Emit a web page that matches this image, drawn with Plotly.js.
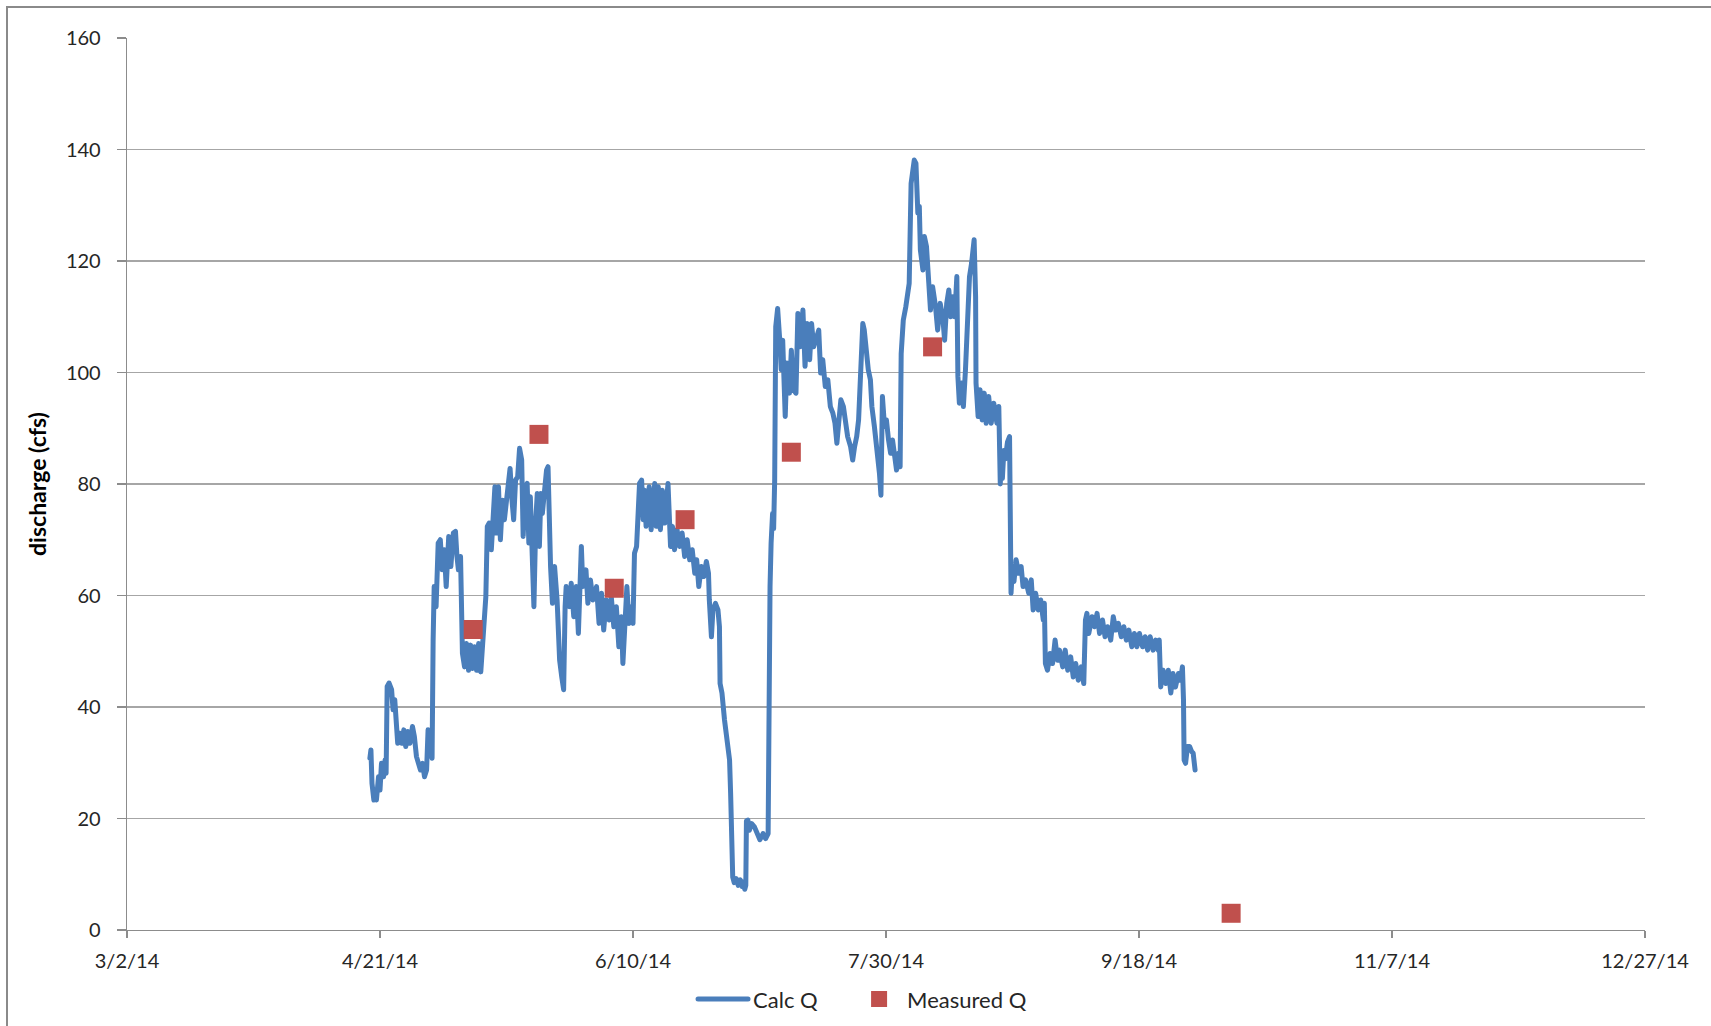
<!DOCTYPE html>
<html>
<head>
<meta charset="utf-8">
<script src="https://cdn.plot.ly/plotly-3.0.1.min.js"></script>
<style>
  html, body { margin: 0; padding: 0; background: #ffffff; overflow: hidden; }
  #wrap { position: relative; width: 1711px; height: 1026px; }
  #chart { position: absolute; left: 0; top: 0; width: 1711px; height: 1026px; }
  #frame { position: absolute; left: 6px; top: 6px; right: -10px; bottom: -10px;
           border-left: 2px solid #8a8a8a; border-top: 2px solid #8a8a8a; pointer-events: none; }
  .js-line { stroke-linejoin: round; stroke-linecap: round; }
</style>
</head>
<body>
<div id="wrap">
  <div id="chart"></div>
  <div id="frame"></div>
</div>
<script>
// Calculated discharge (continuous record), cfs
const calcTimes = [
  "2014-04-19 00:00","2014-04-19 05:00","2014-04-19 10:00","2014-04-19 14:00","2014-04-19 19:00",
  "2014-04-20 02:00","2014-04-20 07:00","2014-04-20 17:00","2014-04-21 00:00","2014-04-21 07:00",
  "2014-04-21 17:00","2014-04-22 00:00","2014-04-22 05:00","2014-04-22 10:00","2014-04-22 19:00",
  "2014-04-23 07:00","2014-04-23 14:00","2014-04-23 22:00","2014-04-24 07:00","2014-04-24 12:00",
  "2014-04-24 22:00","2014-04-25 07:00","2014-04-25 17:00","2014-04-26 02:00","2014-04-26 12:00",
  "2014-04-26 22:00","2014-04-27 10:00","2014-04-27 19:00","2014-04-28 05:00","2014-04-28 14:00",
  "2014-04-29 00:00","2014-04-29 10:00","2014-04-29 19:00","2014-04-30 05:00","2014-04-30 12:00",
  "2014-04-30 22:00","2014-05-01 07:00","2014-05-01 12:00","2014-05-01 17:00","2014-05-02 02:00",
  "2014-05-02 12:00","2014-05-02 22:00","2014-05-03 07:00","2014-05-03 17:00","2014-05-04 02:00",
  "2014-05-04 14:00","2014-05-05 00:00","2014-05-05 12:00","2014-05-05 22:00","2014-05-06 05:00",
  "2014-05-06 12:00","2014-05-06 22:00","2014-05-07 02:00","2014-05-07 07:00","2014-05-07 17:00",
  "2014-05-08 02:00","2014-05-08 12:00","2014-05-08 22:00","2014-05-09 07:00","2014-05-09 17:00",
  "2014-05-10 02:00","2014-05-10 12:00","2014-05-10 22:00","2014-05-11 07:00","2014-05-11 12:00",
  "2014-05-11 22:00","2014-05-12 05:00","2014-05-12 14:00","2014-05-13 00:00","2014-05-13 10:00",
  "2014-05-13 17:00","2014-05-14 00:00","2014-05-14 10:00","2014-05-14 19:00","2014-05-15 05:00",
  "2014-05-15 14:00","2014-05-16 00:00","2014-05-16 10:00","2014-05-16 17:00","2014-05-17 02:00",
  "2014-05-17 10:00","2014-05-17 19:00","2014-05-18 05:00","2014-05-18 14:00","2014-05-19 00:00",
  "2014-05-19 07:00","2014-05-19 17:00","2014-05-20 02:00","2014-05-20 10:00","2014-05-20 17:00",
  "2014-05-21 02:00","2014-05-21 10:00","2014-05-21 19:00","2014-05-22 02:00","2014-05-22 12:00",
  "2014-05-22 19:00","2014-05-23 02:00","2014-05-23 12:00","2014-05-23 22:00","2014-05-24 05:00",
  "2014-05-24 10:00","2014-05-24 17:00","2014-05-25 02:00","2014-05-25 12:00","2014-05-26 00:00",
  "2014-05-26 12:00","2014-05-26 22:00","2014-05-27 07:00","2014-05-27 14:00","2014-05-27 19:00",
  "2014-05-28 10:00","2014-05-28 19:00","2014-05-29 07:00","2014-05-29 19:00","2014-05-30 05:00",
  "2014-05-30 12:00","2014-05-30 19:00","2014-05-31 02:00","2014-05-31 17:00","2014-06-01 02:00",
  "2014-06-01 14:00","2014-06-02 02:00","2014-06-02 19:00","2014-06-03 07:00","2014-06-03 19:00",
  "2014-06-04 05:00","2014-06-04 17:00","2014-06-05 07:00","2014-06-05 17:00","2014-06-06 05:00",
  "2014-06-06 17:00","2014-06-07 05:00","2014-06-07 17:00","2014-06-08 00:00","2014-06-08 10:00",
  "2014-06-08 19:00","2014-06-09 05:00","2014-06-09 17:00","2014-06-10 00:00","2014-06-10 07:00",
  "2014-06-10 17:00","2014-06-11 00:00","2014-06-11 07:00","2014-06-11 17:00","2014-06-12 00:00",
  "2014-06-12 07:00","2014-06-12 14:00","2014-06-13 05:00","2014-06-13 14:00","2014-06-14 07:00",
  "2014-06-14 14:00","2014-06-15 00:00","2014-06-15 10:00","2014-06-15 19:00","2014-06-16 07:00",
  "2014-06-16 22:00","2014-06-17 10:00","2014-06-17 19:00","2014-06-18 05:00","2014-06-18 17:00",
  "2014-06-19 05:00","2014-06-19 17:00","2014-06-20 05:00","2014-06-20 17:00","2014-06-21 05:00",
  "2014-06-21 17:00","2014-06-22 05:00","2014-06-22 14:00","2014-06-23 00:00","2014-06-23 12:00",
  "2014-06-24 00:00","2014-06-24 12:00","2014-06-24 22:00","2014-06-25 02:00","2014-06-25 12:00",
  "2014-06-25 19:00","2014-06-26 07:00","2014-06-26 19:00","2014-06-27 02:00","2014-06-27 05:00",
  "2014-06-27 14:00","2014-06-28 02:00","2014-06-28 10:00","2014-06-28 19:00","2014-06-29 02:00",
  "2014-06-29 07:00","2014-06-29 12:00","2014-06-29 17:00","2014-06-30 00:00","2014-06-30 10:00",
  "2014-06-30 19:00","2014-07-01 05:00","2014-07-01 14:00","2014-07-01 19:00","2014-07-02 02:00",
  "2014-07-02 07:00","2014-07-02 10:00","2014-07-02 17:00","2014-07-03 00:00","2014-07-03 10:00",
  "2014-07-04 00:00","2014-07-04 17:00","2014-07-05 02:00","2014-07-05 17:00","2014-07-06 05:00",
  "2014-07-06 17:00","2014-07-06 19:00","2014-07-07 00:00","2014-07-07 02:00","2014-07-07 07:00",
  "2014-07-07 14:00","2014-07-07 19:00","2014-07-08 00:00","2014-07-08 05:00","2014-07-08 14:00",
  "2014-07-09 00:00","2014-07-09 07:00","2014-07-09 14:00","2014-07-10 02:00","2014-07-10 10:00",
  "2014-07-10 22:00","2014-07-11 07:00","2014-07-11 17:00","2014-07-12 05:00","2014-07-12 14:00",
  "2014-07-13 00:00","2014-07-13 14:00","2014-07-14 00:00","2014-07-14 10:00","2014-07-14 22:00",
  "2014-07-15 07:00","2014-07-15 17:00","2014-07-16 05:00","2014-07-16 17:00","2014-07-17 02:00",
  "2014-07-17 12:00","2014-07-18 00:00","2014-07-18 12:00","2014-07-19 00:00","2014-07-19 12:00",
  "2014-07-19 22:00","2014-07-20 07:00","2014-07-20 17:00","2014-07-21 02:00","2014-07-21 14:00",
  "2014-07-22 00:00","2014-07-22 10:00","2014-07-23 00:00","2014-07-23 10:00","2014-07-23 19:00",
  "2014-07-24 05:00","2014-07-24 14:00","2014-07-25 00:00","2014-07-25 10:00","2014-07-25 17:00",
  "2014-07-26 02:00","2014-07-26 12:00","2014-07-26 22:00","2014-07-27 05:00","2014-07-27 17:00",
  "2014-07-28 00:00","2014-07-28 10:00","2014-07-28 17:00","2014-07-29 00:00","2014-07-29 07:00",
  "2014-07-29 17:00","2014-07-30 02:00","2014-07-30 12:00","2014-07-30 22:00","2014-07-31 07:00",
  "2014-07-31 17:00","2014-08-01 02:00","2014-08-01 12:00","2014-08-01 19:00","2014-08-02 00:00",
  "2014-08-02 10:00","2014-08-02 22:00","2014-08-03 10:00","2014-08-03 14:00","2014-08-03 23:00",
  "2014-08-04 07:00","2014-08-04 14:00","2014-08-04 22:00","2014-08-05 07:00","2014-08-05 14:00",
  "2014-08-05 19:00","2014-08-06 07:00","2014-08-06 14:00","2014-08-07 00:00","2014-08-07 10:00",
  "2014-08-07 19:00","2014-08-08 05:00","2014-08-08 19:00","2014-08-09 05:00","2014-08-09 17:00",
  "2014-08-10 05:00","2014-08-10 14:00","2014-08-11 00:00","2014-08-11 10:00","2014-08-11 19:00",
  "2014-08-12 05:00","2014-08-12 14:00","2014-08-13 00:00","2014-08-13 05:00","2014-08-13 12:00",
  "2014-08-13 22:00","2014-08-14 07:00","2014-08-14 17:00","2014-08-15 02:00","2014-08-15 12:00",
  "2014-08-15 22:00","2014-08-16 10:00","2014-08-16 17:00","2014-08-16 19:00","2014-08-17 05:00",
  "2014-08-17 14:00","2014-08-18 00:00","2014-08-18 10:00","2014-08-18 19:00","2014-08-19 07:00",
  "2014-08-19 19:00","2014-08-20 07:00","2014-08-20 22:00","2014-08-21 07:00","2014-08-21 14:00",
  "2014-08-21 19:00","2014-08-22 00:00","2014-08-22 07:00","2014-08-22 14:00","2014-08-23 00:00",
  "2014-08-23 10:00","2014-08-23 14:00","2014-08-23 17:00","2014-08-24 00:00","2014-08-24 07:00",
  "2014-08-24 17:00","2014-08-25 05:00","2014-08-25 17:00","2014-08-26 02:00","2014-08-26 14:00",
  "2014-08-27 05:00","2014-08-27 17:00","2014-08-28 02:00","2014-08-28 14:00","2014-08-29 02:00",
  "2014-08-29 14:00","2014-08-30 02:00","2014-08-30 07:00","2014-08-30 12:00","2014-08-30 22:00",
  "2014-08-31 10:00","2014-08-31 22:00","2014-09-01 10:00","2014-09-01 22:00","2014-09-02 07:00",
  "2014-09-02 22:00","2014-09-03 10:00","2014-09-03 22:00","2014-09-04 12:00","2014-09-05 00:00",
  "2014-09-05 12:00","2014-09-06 00:00","2014-09-06 14:00","2014-09-07 02:00","2014-09-07 10:00",
  "2014-09-07 17:00","2014-09-08 02:00","2014-09-08 17:00","2014-09-09 05:00","2014-09-09 17:00",
  "2014-09-10 05:00","2014-09-10 19:00","2014-09-11 07:00","2014-09-11 19:00","2014-09-12 10:00",
  "2014-09-12 22:00","2014-09-13 10:00","2014-09-13 22:00","2014-09-14 12:00","2014-09-15 00:00",
  "2014-09-15 12:00","2014-09-16 00:00","2014-09-16 14:00","2014-09-17 02:00","2014-09-17 14:00",
  "2014-09-18 02:00","2014-09-18 17:00","2014-09-19 05:00","2014-09-19 17:00","2014-09-20 05:00",
  "2014-09-20 19:00","2014-09-21 07:00","2014-09-21 19:00","2014-09-22 00:00","2014-09-22 07:00",
  "2014-09-22 18:00","2014-09-23 07:00","2014-09-23 19:00","2014-09-24 07:00","2014-09-24 17:00",
  "2014-09-25 05:00","2014-09-25 19:00","2014-09-26 05:00","2014-09-26 14:00","2014-09-26 19:00",
  "2014-09-26 22:00","2014-09-27 05:00","2014-09-27 14:00","2014-09-28 00:00","2014-09-28 10:00",
  "2014-09-28 17:00","2014-09-29 02:00"
];
const calcQ = [
  30.8, 32.3, 26.3, 23.9, 23.3,
  25.1, 23.3, 27.5, 25.1, 29.9,
  27.5, 30.5, 28.1, 43.7, 44.3,
  43.1, 39.5, 41.3, 37.7, 33.5,
  35.3, 33.5, 35.9, 32.9, 35.6,
  33.5, 36.5, 34.7, 31.1, 29.9,
  28.7, 29.9, 27.5, 28.7, 35.9,
  34.1, 30.8, 52.0, 61.6, 58.0,
  69.4, 70.0, 64.6, 68.2, 61.6,
  70.6, 65.2, 71.2, 71.5, 67.0,
  64.6, 67.0, 61.6, 49.6, 47.2,
  51.4, 46.6, 51.1, 46.9, 50.8,
  46.6, 51.4, 46.3, 50.8, 55.6,
  59.8, 72.4, 73.0, 68.2, 75.9,
  79.5, 71.2, 79.5, 70.0, 77.1,
  73.6, 77.1, 80.7, 82.8, 77.1,
  73.6, 80.7, 81.3, 86.4, 84.3,
  70.6, 79.5, 80.1, 69.4, 77.7,
  65.2, 58.0, 73.6, 78.3, 68.8,
  78.3, 74.7, 79.5, 82.5, 83.1,
  70.0, 65.2, 58.6, 65.2, 59.2,
  48.4, 45.4, 43.1, 58.0, 61.6,
  58.0, 62.2, 56.2, 61.6, 53.2,
  61.0, 68.8, 61.6, 64.6, 58.6,
  62.8, 59.2, 61.6, 55.0, 60.4,
  53.8, 59.2, 55.6, 59.8, 54.4,
  58.0, 50.8, 56.2, 47.8, 56.8,
  61.6, 55.0, 58.0, 55.0, 67.6,
  68.8, 77.1, 80.1, 80.7, 73.6,
  78.9, 72.4, 79.5, 71.8, 80.1,
  72.4, 79.5, 71.8, 78.9, 73.0,
  80.1, 68.8, 72.4, 68.2, 71.8,
  68.8, 71.2, 67.0, 70.0, 66.4,
  68.2, 64.0, 66.4, 61.6, 65.2,
  63.4, 66.1, 64.0, 59.2, 52.6,
  57.4, 58.6, 57.4, 54.4, 44.2,
  42.5, 37.7, 35.3, 32.3, 30.5,
  24.5, 14.0, 9.5, 8.5, 9.2,
  8.0, 9.0, 7.8, 8.6, 7.3,
  8.0, 19.6, 19.7, 17.9, 19.1,
  18.5, 17.3, 16.2, 17.3, 16.4,
  17.3, 46.6, 58.0, 61.6, 69.4,
  74.7, 72.0, 80.7, 108.2, 111.5,
  105.8, 100.5, 105.8, 92.1, 101.7,
  96.3, 104.0, 96.9, 96.3, 110.6,
  104.6, 111.2, 101.1, 108.8, 102.3,
  108.8, 104.6, 106.4, 107.6, 99.9,
  102.3, 97.5, 98.7, 93.9, 92.7,
  90.9, 87.3, 91.5, 95.1, 93.9,
  90.3, 88.5, 86.7, 84.3, 86.7,
  88.5, 91.5, 98.7, 108.8, 107.6,
  104.0, 100.5, 98.7, 93.9, 90.3,
  87.9, 84.9, 81.9, 78.0, 95.7,
  90.3, 91.5, 87.9, 85.5, 87.9,
  84.3, 82.5, 85.5, 83.1, 103.4,
  109.4, 111.8, 114.2, 116.0, 133.9,
  135.7, 138.1, 137.5, 128.6, 129.8,
  122.0, 118.4, 124.4, 122.6, 116.0,
  111.2, 115.4, 111.8, 107.6, 112.4,
  110.0, 105.8, 112.4, 114.8, 110.0,
  113.6, 110.0, 117.2, 99.3, 94.5,
  98.1, 93.9, 100.5, 107.6, 117.2,
  119.6, 123.8, 113.6, 98.1, 92.1,
  96.9, 91.5, 96.3, 90.9, 95.7,
  90.9, 94.5, 90.9, 93.9, 80.0,
  84.0, 81.0, 86.0, 84.5, 87.5,
  88.5, 70.0, 60.4, 65.2, 62.5,
  66.4, 64.0, 65.2, 61.6, 62.8,
  60.4, 62.8, 57.4, 60.4, 57.4,
  59.2, 55.6, 58.6, 47.8, 46.6,
  49.6, 47.8, 52.0, 48.4, 50.2,
  47.2, 50.2, 46.6, 49.0, 45.4,
  47.8, 44.8, 47.2, 44.2, 55.6,
  56.8, 53.2, 56.2, 54.4, 56.8,
  53.2, 55.6, 52.6, 54.4, 52.0,
  56.2, 53.8, 55.0, 52.6, 54.4,
  52.0, 53.8, 50.8, 53.2, 50.8,
  53.2, 50.8, 52.6, 50.2, 52.6,
  50.2, 52.0, 50.2, 52.0, 43.6,
  46.6, 44.2, 46.6, 42.5, 46.0,
  43.6, 46.0, 44.8, 47.2, 41.3,
  30.5, 29.9, 32.9, 32.9, 32.0,
  31.7, 28.7
];

// Field-measured discharge, cfs
const measTimes = [
  "2014-05-09 10:00", "2014-05-22 10:00", "2014-06-06 07:00", "2014-06-20 07:00",
  "2014-07-11 07:00", "2014-08-08 05:00", "2014-10-06 05:00"
];
const measQ = [53.9, 88.9, 61.3, 73.6, 85.7, 104.6, 3.0];

// Axis ticks
const xTickVals = ["2014-03-02", "2014-04-21", "2014-06-10", "2014-07-30", "2014-09-18", "2014-11-07", "2014-12-27"];
const xTickText = ["3/2/14", "4/21/14", "6/10/14", "7/30/14", "9/18/14", "11/7/14", "12/27/14"];
const yTickVals = [0, 20, 40, 60, 80, 100, 120, 140, 160];

const FONT = "Lato, 'Open Sans', 'Liberation Sans', sans-serif";
const INK = "#262626";
const AXIS_GRAY = "#8c8c8c";

const traces = [
  {
    type: "scatter",
    mode: "lines",
    name: "Calc Q",
    legend: "legend",
    x: calcTimes,
    y: calcQ,
    line: { color: "#4a7ebb", width: 5 },
    hoverinfo: "skip"
  },
  {
    type: "scatter",
    mode: "markers",
    name: "Measured Q",
    legend: "legend2",
    x: measTimes,
    y: measQ,
    marker: { symbol: "square", color: "#c0504d", size: 19, line: { width: 0 } },
    hoverinfo: "skip"
  }
];

// Two single-entry legends so each key sits where it should under the axis
const legendBase = {
  orientation: "h",
  xanchor: "left",
  y: -0.054,
  yanchor: "top",
  font: { family: FONT, size: 22, color: INK },
  bgcolor: "rgba(0,0,0,0)"
};

const layout = {
  width: 1711,
  height: 1026,
  margin: { l: 127, r: 66, t: 38, b: 96, pad: 0, autoexpand: false },
  paper_bgcolor: "#ffffff",
  plot_bgcolor: "#ffffff",
  font: { family: FONT, size: 20, color: INK },
  showlegend: true,
  legend: Object.assign({}, legendBase, { x: 0.3729, itemwidth: 50 }),
  legend2: Object.assign({}, legendBase, { x: 0.477, itemwidth: 46 }),
  xaxis: {
    type: "date",
    range: ["2014-03-02", "2014-12-27"],
    tickmode: "array",
    tickvals: xTickVals,
    ticktext: xTickText,
    showgrid: false,
    zeroline: false,
    showline: true,
    linecolor: AXIS_GRAY,
    linewidth: 1.3,
    ticks: "outside",
    ticklen: 7,
    tickwidth: 1.3,
    tickcolor: AXIS_GRAY,
    tickfont: { family: FONT, size: 20, color: INK },
    ticklabelstandoff: 6,
    fixedrange: true
  },
  yaxis: {
    range: [0, 160],
    tickmode: "array",
    tickvals: yTickVals,
    showgrid: true,
    gridcolor: "#a6a6a6",
    gridwidth: 1.3,
    zeroline: false,
    showline: true,
    linecolor: AXIS_GRAY,
    linewidth: 1.3,
    ticks: "outside",
    ticklen: 9,
    tickwidth: 1.3,
    tickcolor: AXIS_GRAY,
    tickfont: { family: FONT, size: 20, color: INK },
    ticklabelstandoff: 12,
    title: {
      text: "<b>discharge (cfs)</b>",
      font: { family: FONT, size: 23, color: "#000000" },
      standoff: 12
    },
    fixedrange: true
  }
};

Plotly.newPlot("chart", traces, layout, { staticPlot: true, displayModeBar: false });
</script>
</body>
</html>
